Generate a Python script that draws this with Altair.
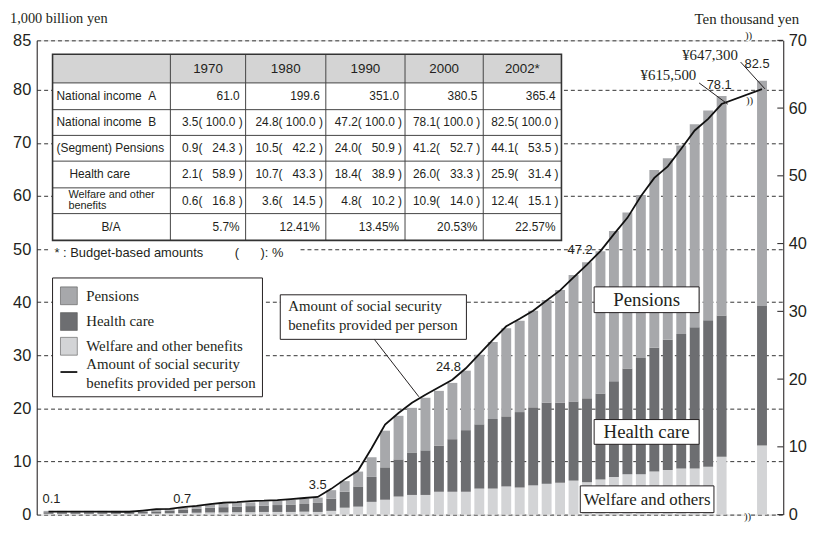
import altair as alt
import pandas as pd

# ---------------- data ----------------
years = list(range(1950, 2001)) + [2002]
welfare = [0.15, 0.15, 0.15, 0.15, 0.15, 0.15, 0.15, 0.2, 0.2, 0.25, 0.3, 0.35, 0.4, 0.4, 0.45, 0.45, 0.5, 0.5, 0.5, 0.55, 0.5,
           0.7, 1.3, 1.5, 2.4, 2.8, 3.4, 3.7, 3.7, 4.3, 4.3,
           4.3, 4.9, 4.9, 5.3, 5.1, 5.5, 5.8, 6.0, 6.4, 6.1,
           6.6, 7.1, 7.6, 7.6, 8.1, 8.4, 8.7, 8.7, 9.0, 10.9,
           13.0]
health = [0.3, 0.3, 0.3, 0.3, 0.3, 0.3, 0.3, 0.35, 0.4, 0.45, 0.6, 0.75, 0.9, 1.0, 1.05, 1.15, 1.2, 1.3, 1.4, 1.45, 1.7,
          2.3, 3.0, 3.8, 4.7, 6.1, 7.0, 8.0, 8.4, 8.7, 9.9,
          11.6, 12.1, 13.1, 13.2, 14.2, 14.7, 15.3, 15.1, 14.9, 15.8,
          16.2, 18.0, 19.9, 21.9, 23.3, 24.5, 25.3, 26.6, 27.6, 26.6,
          26.3]
pensions = [0.25, 0.25, 0.25, 0.25, 0.25, 0.25, 0.25, 0.25, 0.4, 0.4, 0.4, 0.5, 0.6, 0.6, 0.7, 0.7, 0.8, 0.8, 0.9, 1.0, 1.0,
            1.6, 2.0, 2.8, 3.7, 6.9, 8.2, 8.4, 9.9, 10.3, 10.6,
            11.2, 13.1, 14.5, 16.6, 17.2, 18.2, 19.3, 21.2, 23.8, 25.6,
            26.8, 28.3, 29.4, 30.7, 33.5, 34.2, 35.5, 38.2, 39.5, 41.3,
            42.4]
per_person = [0.45, 0.45, 0.45, 0.45, 0.45, 0.42, 0.42, 0.6, 0.8, 0.85, 1.1, 1.3, 1.55, 1.75, 1.85, 2.0, 2.05, 2.15, 2.3, 2.45, 2.6,
              3.8, 5.2, 6.5, 9.8, 13.3, 15.0, 16.5, 17.7, 18.8, 19.9,
              21.6, 23.7, 25.8, 27.8, 28.9, 30.1, 31.6, 33.1, 35.0, 36.9,
              38.9, 41.4, 43.8, 47.0, 49.7, 51.4, 54.0, 56.7, 58.4, 60.6,
              62.8]

label_years = [1950, 1960, 1970, 1980, 1990, 2000, 2002]
label_texts = ["0.1", "0.7", "3.5", "24.8", "47.2", "78.1", "82.5"]

categories = ["Pensions", "Health care", "Welfare and other benefits"]
cat_colors = ["#a7a8ab", "#6d6e71", "#d3d4d6"]

left_ticks = [0, 10, 20, 30, 40, 50, 60, 70, 80]
right_ticks = [0, 10, 20, 30, 40, 50, 60, 70]
x_tick_years = [1950, 1960, 1970, 1980, 1990, 2000, 2002]

table_cols = ["1970", "1980", "1990", "2000", "2002*"]
income_a = [61.0, 199.6, 351.0, 380.5, 365.4]
income_b = [3.5, 24.8, 47.2, 78.1, 82.5]
pens_amt = [0.9, 10.5, 24.0, 41.2, 44.1]
pens_pct = [24.3, 42.2, 50.9, 52.7, 53.5]
hc_amt = [2.1, 10.7, 18.4, 26.0, 25.9]
hc_pct = [58.9, 43.3, 38.9, 33.3, 31.4]
wf_amt = [0.6, 3.6, 4.8, 10.9, 12.4]
wf_pct = [16.8, 14.5, 10.2, 14.0, 15.1]
b_over_a = ["5.7%", "12.41%", "13.45%", "20.53%", "22.57%"]

# ---------------- layout / style ----------------
W, H = 754, 479
XDOM = [1949.49, 2004.21]
YL = [0, 89.3]
YR = [0, 70]
SANS = "Liberation Sans, Arial, sans-serif"
SERIF = "Liberation Serif, Times New Roman, serif"
INK = "#231f20"


def to_pos(y):
    return y if y <= 2000 else y + 1  # axis break: 2002 drawn after a gap


pos = [to_pos(y) for y in years]
xscale = alt.Scale(domain=XDOM, nice=False, zero=False)
yl_scale = alt.Scale(domain=YL, nice=False, zero=True)
yr_scale = alt.Scale(domain=YR, nice=False, zero=True)

rows = []
for i, y in enumerate(years):
    for cat, vals, o in [("Welfare and other benefits", welfare, 0), ("Health care", health, 1), ("Pensions", pensions, 2)]:
        rows.append({"year": y, "pos": pos[i], "category": cat, "value": vals[i], "ord": o})
bars_df = pd.DataFrame(rows)

AX_FS = 16.5

bars = alt.Chart(bars_df).mark_bar(size=10).encode(
    x=alt.X("pos:Q", scale=xscale, axis=alt.Axis(
        values=[to_pos(v) for v in x_tick_years],
        labelExpr="datum.value == 2003 ? '2002*' : '' + datum.value",
        title=None, grid=False, tickSize=6, tickColor=INK, domainColor=INK,
        labelFont=SANS, labelFontSize=AX_FS, labelColor=INK, labelPadding=2, zindex=0)),
    y=alt.Y("value:Q", stack="zero", scale=yl_scale, axis=alt.Axis(
        values=left_ticks + [YL[1]],
        labelExpr="datum.value > 85 ? '85' : datum.label",
        title=None, grid=True, gridDash=[4, 3], gridColor="#333", gridWidth=1,
        tickSize=0, domainColor=INK, labelFont=SANS, labelFontSize=AX_FS,
        labelColor=INK, labelPadding=6, zindex=0)),
    color=alt.Color("category:N", scale=alt.Scale(domain=categories, range=cat_colors), legend=None),
    order=alt.Order("ord:Q", sort="ascending"),
)

line_df = pd.DataFrame({"pos": pos, "per_person": per_person})
line = alt.Chart(line_df).mark_line(color="#111", strokeWidth=1.8).encode(
    x=alt.X("pos:Q", scale=xscale, axis=None),
    y=alt.Y("per_person:Q", scale=yr_scale, axis=alt.Axis(
        orient="right", values=right_ticks, title=None, grid=False, tickSize=0,
        domainColor=INK, labelFont=SANS, labelFontSize=AX_FS, labelColor=INK,
        labelPadding=5)),
)

rticks = alt.Chart(pd.DataFrame({"v": right_ticks})).mark_rule(color=INK, strokeWidth=1).encode(
    x=alt.value(W - 6), x2=alt.value(W),
    y=alt.Y("v:Q", scale=yr_scale, axis=None),
)

layers = [bars, line, rticks]

# value labels above bars
totals = {y: welfare[i] + health[i] + pensions[i] for i, y in enumerate(years)}
label_offsets = [(3, -12), (-1, -9), (0, -13), (-4, -16), (-7, -12), (-2.5, -11), (-5, -17)]
for yr, t, (dx, dy) in zip(label_years, label_texts, label_offsets):
    d = pd.DataFrame({"pos": [to_pos(yr)], "total": [totals[yr]], "t": [t]})
    layers.append(alt.Chart(d).mark_text(font=SANS, fontSize=13, color=INK, dx=dx, dy=dy,
                                         baseline="middle", align="center").encode(
        x=alt.X("pos:Q", scale=xscale, axis=None),
        y=alt.Y("total:Q", scale=yl_scale, axis=None),
        text="t:N"))

one = pd.DataFrame({"a": [0]})


def txt(x, y, s, size, font, align="left", color=INK, baseline="middle"):
    return alt.Chart(one).mark_text(text=s, font=font, fontSize=size, align=align,
                                    baseline=baseline, color=color).encode(
        x=alt.value(x), y=alt.value(y))


def box(x1, y1, x2, y2, fill="white", stroke=INK, sw=1.0):
    return alt.Chart(one).mark_rect(fill=fill, stroke=stroke, strokeWidth=sw).encode(
        x=alt.value(x1), x2=alt.value(x2), y=alt.value(y1), y2=alt.value(y2))


def seg(x1, y1, x2, y2, color=INK, sw=1.0):
    return alt.Chart(one).mark_rule(color=color, strokeWidth=sw).encode(
        x=alt.value(x1), x2=alt.value(x2), y=alt.value(y1), y2=alt.value(y2))


# axis titles (kept inside the SVG's top edge)
layers.append(txt(-27, -29, "1,000 billion yen", 14.5, SERIF, baseline="top"))
layers.append(txt(770, -29, "Ten thousand yen", 15, SERIF, align="right", baseline="top"))

# callout boxes
layers += [box(563, 249, 669, 275), txt(616, 262, "Pensions", 19, SERIF, align="center")]
layers += [box(563, 383, 669, 408), txt(616, 396, "Health care", 19, SERIF, align="center")]
layers += [box(549, 450, 684, 477), txt(616.5, 464, "Welfare and others", 17, SERIF, align="center")]
layers += [seg(341, 302, 386, 360),
           box(246, 257, 434, 302),
           txt(254, 268, "Amount of social security", 15, SERIF),
           txt(254, 288, "benefits provided per person", 15, SERIF)]
layers += [txt(638, 35, "¥615,500", 15, SERIF, align="center"), seg(669, 43, 698, 64.5),
           txt(680, 15, "¥647,300", 15, SERIF, align="center"), seg(711, 22, 735.5, 49)]

# axis-break marks
for bx, by in [(719, -4), (720, 61), (718, 481)]:
    layers.append(box(bx - 3, by - 5, bx + 3, by + 5, fill="white", stroke="white", sw=0))
    layers.append(txt(bx, by, "))", 11, SERIF, align="center"))

# legend
layers.append(box(16, 240, 228, 360, sw=1.0))
for (yy, col) in zip([249, 275, 300], cat_colors):
    layers.append(box(24, yy, 41, yy + 18, fill=col, stroke="#555", sw=0.6))
for (yy, name) in zip([258, 284, 309], categories):
    layers.append(txt(50, yy, name, 15, SERIF))
layers.append(seg(24, 335, 41, 335, color="#111", sw=1.8))
layers.append(txt(50, 327, "Amount of social security", 15, SERIF))
layers.append(txt(50, 346, "benefits provided per person", 15, SERIF))

# ---------------- table ----------------
col_edges = [16, 135, 211, 292, 372, 451, 530]
row_edges = [14, 43, 70, 96, 122, 149, 175, 202]
row_mid = [(row_edges[i] + row_edges[i + 1]) / 2 for i in range(len(row_edges) - 1)]

# white band behind the footnote (hides gridline there)
layers.append(box(12, 204, 264, 226, fill="white", stroke=None, sw=0))
layers.append(box(col_edges[0], row_edges[0], col_edges[-1], row_edges[-1], fill="white", stroke=None, sw=0))
layers.append(box(col_edges[0], row_edges[0], col_edges[-1], row_edges[1], fill="#d4d4d4", stroke=None, sw=0))

grid_rows = []
for ry in row_edges[1:-1]:
    grid_rows.append({"x": col_edges[0], "x2": col_edges[-1], "y": ry, "y2": ry})
for cx in col_edges[1:-1]:
    grid_rows.append({"x": cx, "x2": cx, "y": row_edges[0], "y2": row_edges[-1]})
grid_df = pd.DataFrame(grid_rows)
layers.append(alt.Chart(grid_df).mark_rule(color="#444", strokeWidth=1).encode(
    x=alt.X("x:Q", scale=None), x2="x2:Q", y=alt.Y("y:Q", scale=None), y2="y2:Q"))
layers.append(box(col_edges[0], row_edges[0], col_edges[-1], row_edges[-1], fill=None, stroke="#333", sw=1.6))


def pair(a, b):
    pad = "\u2007" if b < 100 else ""
    return f"{a:.1f}(\u00a0{pad}{b:.1f}\u00a0)"


TFS = 12
cell_rows = []
for j in range(5):
    right = col_edges[j + 2]
    cell_rows.append({"x": right - 6, "y": row_mid[1], "t": f"{income_a[j]:.1f}"})
    cell_rows.append({"x": right - 3, "y": row_mid[2], "t": pair(income_b[j], 100.0)})
    cell_rows.append({"x": right - 3, "y": row_mid[3], "t": pair(pens_amt[j], pens_pct[j])})
    cell_rows.append({"x": right - 3, "y": row_mid[4], "t": pair(hc_amt[j], hc_pct[j])})
    cell_rows.append({"x": right - 3, "y": row_mid[5], "t": pair(wf_amt[j], wf_pct[j])})
    cell_rows.append({"x": right - 6, "y": row_mid[6], "t": b_over_a[j]})
cells_df = pd.DataFrame(cell_rows)
layers.append(alt.Chart(cells_df).mark_text(font=SANS, fontSize=TFS, color=INK, align="right",
                                            baseline="middle").encode(
    x=alt.X("x:Q", scale=None), y=alt.Y("y:Q", scale=None), text="t:N"))

head_df = pd.DataFrame({"x": [(col_edges[j + 1] + col_edges[j + 2]) / 2 for j in range(5)],
                        "y": [row_mid[0]] * 5, "t": table_cols})
layers.append(alt.Chart(head_df).mark_text(font=SANS, fontSize=13.5, color=INK, align="center",
                                           baseline="middle").encode(
    x=alt.X("x:Q", scale=None), y=alt.Y("y:Q", scale=None), text="t:N"))

layers += [txt(20, row_mid[1], "National income\u00a0\u00a0A", TFS, SANS),
           txt(20, row_mid[2], "National income\u00a0\u00a0B", TFS, SANS),
           txt(20, row_mid[3], "(Segment) Pensions", TFS, SANS),
           txt(33, row_mid[4], "Health care", TFS, SANS),
           txt(32, row_mid[5] - 5.5, "Welfare and other", 11, SANS),
           txt(32, row_mid[5] + 5, "benefits", 11, SANS),
           txt(75, row_mid[6], "B/A", TFS, SANS, align="center")]

layers += [txt(18, 215, "*\u00a0: Budget-based amounts", 13, SANS),
           txt(200, 215, "(", 13, SANS),
           txt(226, 215, "):\u00a0%", 13, SANS)]

chart = alt.layer(*layers).resolve_scale(y="independent").properties(
    width=W, height=H,
    autosize=alt.AutoSizeParams(type="none"),
    padding={"left": 29, "top": 30, "right": 25, "bottom": 24},
).configure_view(stroke=INK, strokeWidth=1.2).configure(background="white")

chart.save("out.html", embed_options={"renderer": "svg", "actions": False})
